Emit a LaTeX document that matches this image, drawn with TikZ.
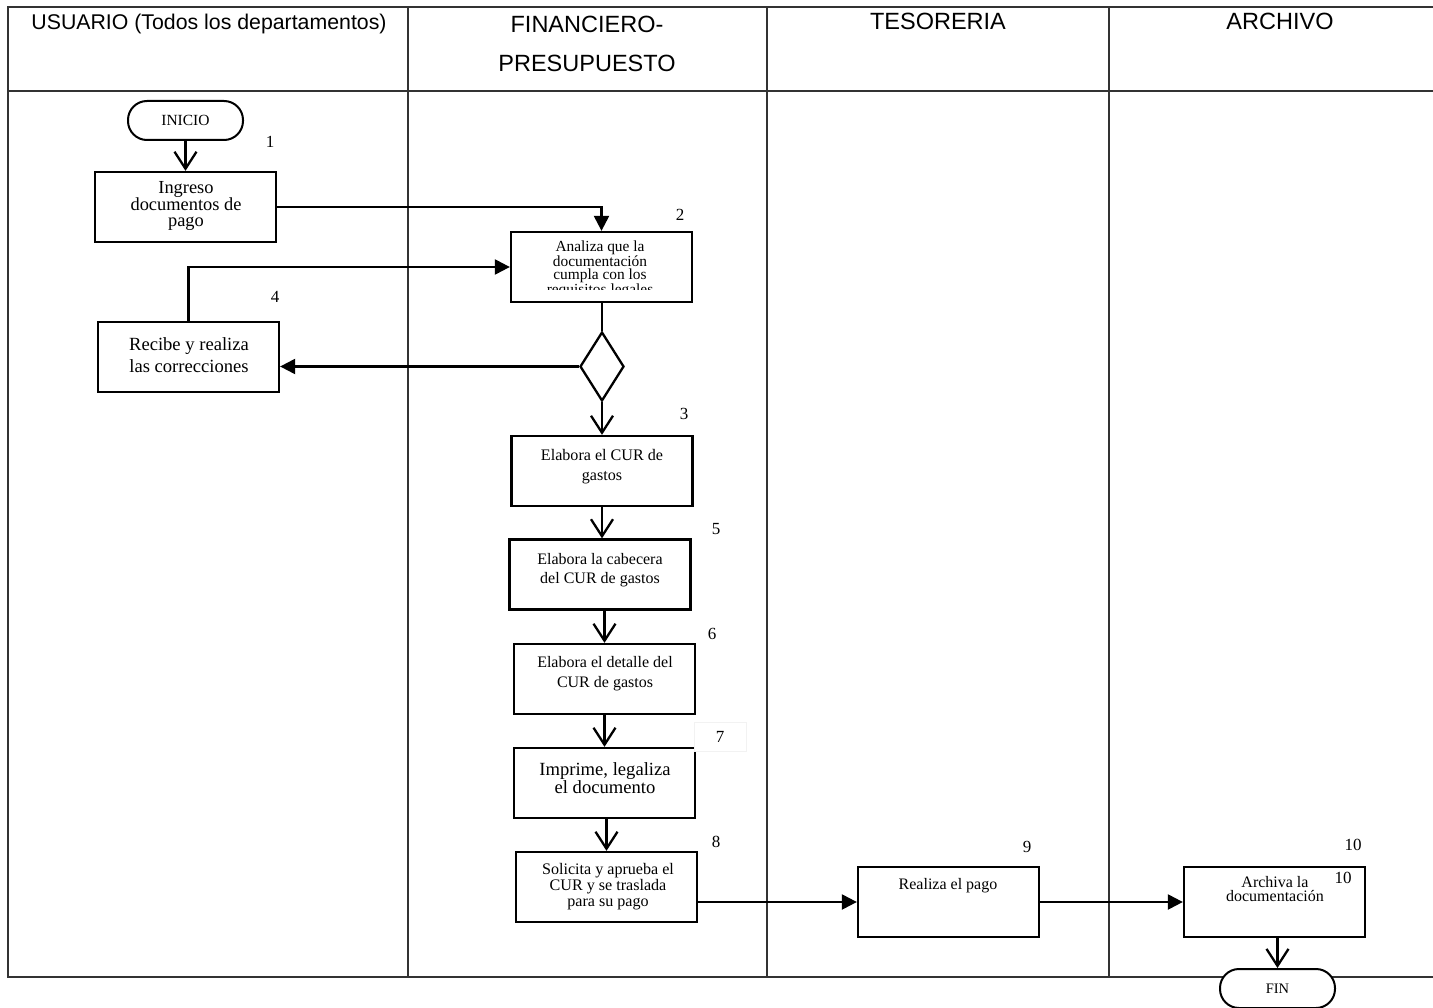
\documentclass[tikz,border=0pt]{standalone}
\usepackage{fontspec}
\setmainfont{Liberation Serif}
\setsansfont{Liberation Sans}
\usetikzlibrary{arrows.meta,shapes.geometric}

\begin{document}
\begin{tikzpicture}[x=1pt,y=-1pt,
  lane/.style={draw=black!80, line width=1.3pt},
  hdr/.style={font=\sffamily\fontsize{23.5}{28}\selectfont, inner sep=0pt, anchor=base},
  box/.style={draw, line width=2.3pt, minimum width=181pt, minimum height=70pt, inner sep=0pt},
  term/.style={draw, line width=2pt, fill=white, rounded corners=19pt, minimum width=115pt, minimum height=39pt, inner sep=0pt},
  txt/.style={align=center, inner sep=0pt},
  num/.style={font=\fontsize{17}{17}\selectfont, inner sep=0pt},
  flow/.style={line width=2.3pt, -{Straight Barb[length=17pt,width=22pt]}},
  push/.style={line width=2.3pt, -{Triangle[length=15pt,width=15pt]}},
  plain/.style={line width=2.3pt}
]
\useasboundingbox (0,0) rectangle (1433,1008);

% swimlane table
\draw[lane] (1433,7) -- (8,7) -- (8,977) -- (1433,977);
\draw[lane] (8,91) -- (1433,91);
\draw[lane] (408,7) -- (408,977);
\draw[lane] (767,7) -- (767,977);
\draw[lane] (1109,7) -- (1109,977);

% lane titles
\node[hdr, font=\sffamily\fontsize{21.3}{26}\selectfont] (h1) at (209,30) {USUARIO (Todos los departamentos)};
\node[hdr] (h2a) at (587,33) {FINANCIERO-};
\node[hdr] (h2b) at (587,72) {PRESUPUESTO};
\node[hdr] (h3) at (938,30) {TESORERIA};
\node[hdr] (h4) at (1280,30) {ARCHIVO};

% terminals
\node[term, font=\fontsize{15.5}{16}\selectfont] (ini) at (185.5,120.5) {INICIO};

% process boxes
\node[box] (b1) at (185.5,207) {};
\node[box] (b2) at (601.5,267) {};
\node[box] (b4) at (188.5,357) {};
\node[box] (b3) at (602,471) {};
\node[box] (b5) at (600,574.5) {};
\node[box] (b6) at (604.5,679) {};
\node[box] (b7) at (604.5,783) {};
\node[box] (b8) at (606.5,887) {};
\node[box] (b9) at (948.5,902) {};
\node[box] (b10) at (1274.5,902) {};

% decision
\node[draw, diamond, line width=2.3pt, minimum width=44pt, minimum height=69pt, inner sep=0pt] (d) at (602,366.5) {};

% box texts
\node[txt, font=\fontsize{18.4}{16}\selectfont] (t1) at (186,206) {Ingreso\\documentos de\\pago};
\begin{scope}
  \clip (510,231) rectangle (693,290);
  \node[txt, font=\fontsize{15.4}{13}\selectfont] (t2) at (600,269.4) {Analiza que la\\documentación\\cumpla con los\\requisitos legales};
\end{scope}
\node[txt, font=\fontsize{18.6}{22}\selectfont] (t4) at (189,355) {Recibe y realiza\\las correcciones};
\node[txt, font=\fontsize{16.1}{20}\selectfont] (t3) at (602,467) {Elabora el CUR de\\gastos};
\node[txt, font=\fontsize{16}{19}\selectfont] (t5) at (600,570) {Elabora la cabecera\\del CUR de gastos};
\node[txt, font=\fontsize{16}{20}\selectfont] (t6) at (605,674) {Elabora el detalle del\\CUR de gastos};
\node[txt, font=\fontsize{18.6}{18}\selectfont] (t7) at (605,778) {Imprime, legaliza\\el documento};
\node[txt, font=\fontsize{16.1}{16}\selectfont] (t8) at (608,887) {Solicita y aprueba el\\CUR y se traslada\\para su pago};
\node[txt, font=\fontsize{16}{16}\selectfont] (t9) at (948,886) {Realiza el pago};
\node[txt, font=\fontsize{16}{14}\selectfont] (t10) at (1275,889) {Archiva la\\documentación};

% step numbers
\node[num] (n1) at (270,142) {1};
\node[num] (n2) at (680,215) {2};
\node[num] (n4) at (275,297) {4};
\node[num] (n3) at (684,414) {3};
\node[num] (n5) at (716,529) {5};
\node[num] (n6) at (712,634) {6};
\node[num, fill=white, draw=black!5, line width=0.5pt, minimum width=52pt, minimum height=29pt] (n7) at (720,736.5) {7};
\node[num] (n8) at (716,842) {8};
\node[num] (n9) at (1027,847) {9};
\node[num] (n10) at (1353,845) {10};
\node[num] (n10b) at (1343,878) {10};

% end terminal
\node[term, font=\fontsize{14.5}{15}\selectfont] (fin) at (1277.5,988.5) {FIN};

% connectors
\draw[flow] (ini.south) -- (b1.north);
\draw[push] (b1.east) -| (b2.north);
\draw[push] (b4.north) |- (b2.west);
\draw[plain] (d.north |- b2.south) -- (d.north);
\draw[push] (d.west) -- (d.west -| b4.east);
\draw[flow] (d.south) -- (d.south |- b3.north);
\draw[flow] (b3.south) -- (b3.south |- b5.north);
\draw[flow] (b6.north |- b5.south) -- (b6.north);
\draw[flow] (b7.north |- b6.south) -- (b7.north);
\draw[flow] (b8.north |- b7.south) -- (b8.north);
\draw[push] (b9.west -| b8.east) -- (b9.west);
\draw[push] (b9.east) -- (b10.west);
\draw[flow] (fin.north |- b10.south) -- (fin.north);
\end{tikzpicture}
\end{document}
